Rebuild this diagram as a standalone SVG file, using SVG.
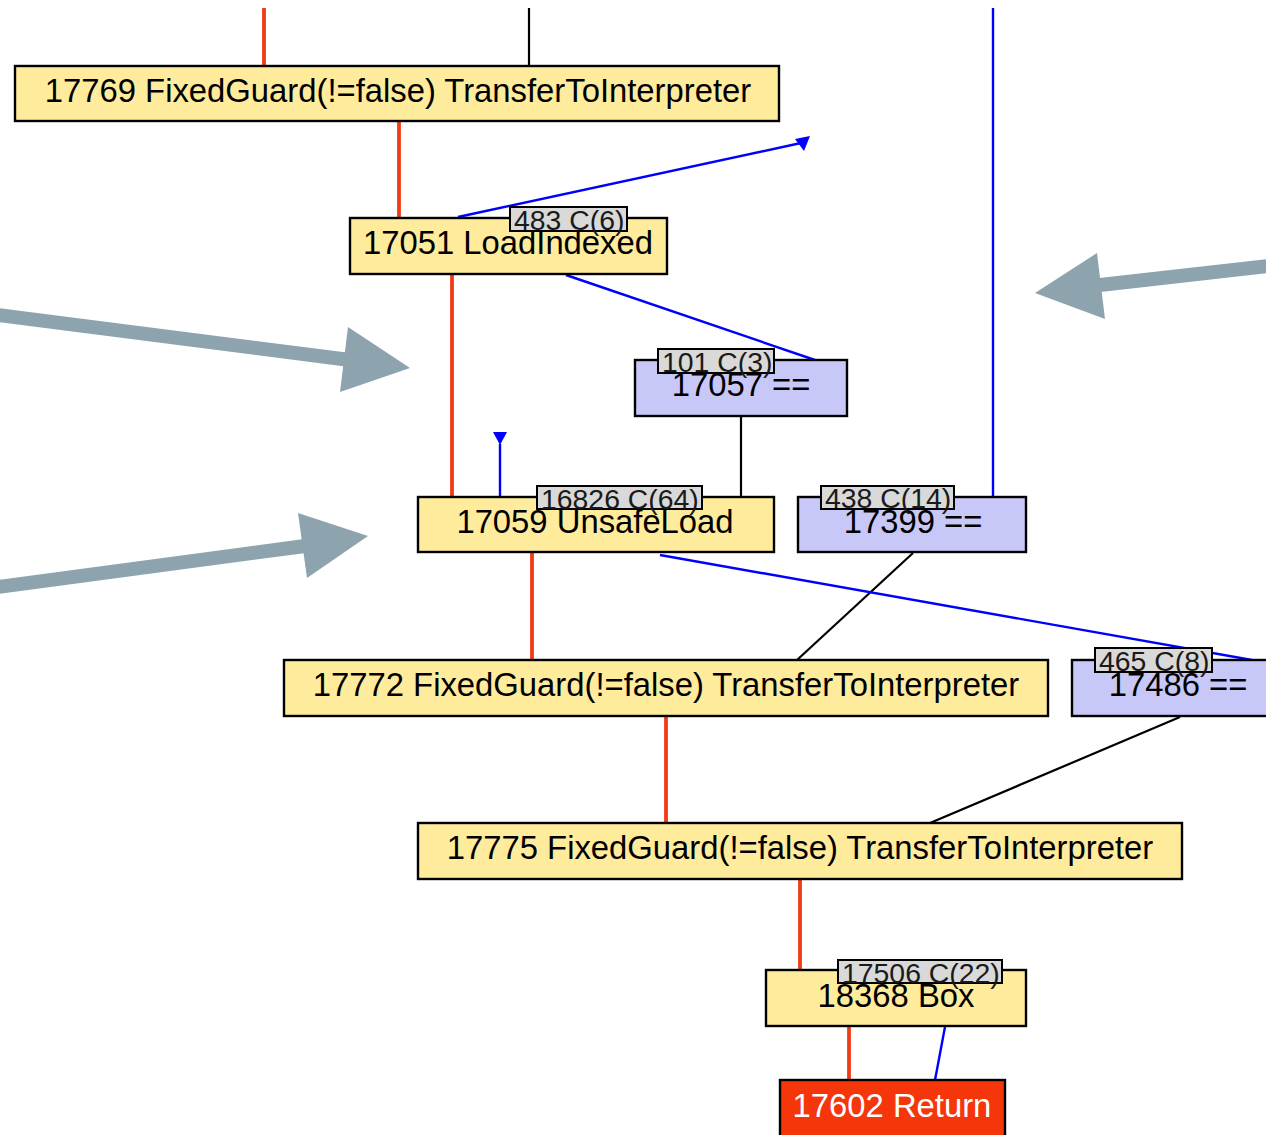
<svg xmlns="http://www.w3.org/2000/svg" width="1266" height="1135" viewBox="0 0 1266 1135">
  <style>
    text { font-family: "Liberation Sans", Arial, Helvetica, sans-serif; }
    .node rect.body { stroke: #000; stroke-width: 2.4; }
    .fixed { fill: #feeb9c; }
    .cmp { fill: #c8c8f8; }
    .ret { fill: #f5360a; }
    .name { font-size: 32.8px; fill: #000; text-anchor: middle; }
    .name.light { fill: #fff; }
    .tag rect { fill: #d9d9d9; stroke: #000; stroke-width: 2; }
    .tag text { font-size: 28.4px; fill: #1a1a1a; }
    .ctrl { stroke: #f03c16; stroke-width: 3.8; fill: none; }
    .data { stroke: #000; stroke-width: 2.2; fill: none; }
    .flow { stroke: #0000ff; stroke-width: 2.4; fill: none; }
    .head { fill: #0000ff; }
    .pointer { fill: #8da4af; }
    .pointer-shaft { stroke: #8da4af; stroke-width: 14; fill: none; }
  </style>

  <!-- connectors -->
  <g id="edges">
    <!-- control flow (red) -->
    <line class="ctrl" x1="264" y1="8" x2="264" y2="66"/>
    <line class="ctrl" x1="399" y1="122" x2="399" y2="218"/>
    <line class="ctrl" x1="452" y1="275" x2="452" y2="497"/>
    <line class="ctrl" x1="532" y1="553" x2="532" y2="660"/>
    <line class="ctrl" x1="666" y1="717" x2="666" y2="823"/>
    <line class="ctrl" x1="800" y1="880" x2="800" y2="970"/>
    <line class="ctrl" x1="849" y1="1027" x2="849" y2="1080"/>

    <!-- inputs (black) -->
    <line class="data" x1="529" y1="8" x2="529" y2="66"/>
    <line class="data" x1="741" y1="417" x2="741" y2="497"/>
    <line class="data" x1="913" y1="553" x2="797" y2="660"/>
    <line class="data" x1="1180" y1="717" x2="930" y2="823"/>

    <!-- values (blue) -->
    <line class="flow" x1="993" y1="8" x2="993" y2="497"/>
    <line class="flow" x1="458" y1="217" x2="801" y2="143"/>
    <polygon class="head" points="795,139 810,136 804,151"/>
    <line class="flow" x1="566" y1="275" x2="815" y2="360"/>
    <line class="flow" x1="500" y1="497" x2="500" y2="444"/>
    <polygon class="head" points="493,432 507,432 500,445"/>
    <line class="flow" x1="660" y1="555" x2="1252" y2="660"/>
    <line class="flow" x1="945" y1="1027" x2="935" y2="1080"/>
  </g>

  <!-- nodes -->
  <g id="n17769" class="node">
    <rect class="body fixed" x="15" y="66" width="764" height="55"/>
    <text class="name" x="398" y="102">17769 FixedGuard(!=false) TransferToInterpreter</text>
  </g>

  <g id="n17051" class="node">
    <rect class="body fixed" x="350" y="218" width="317" height="56"/>
    <text class="name" x="508" y="254">17051 LoadIndexed</text>
    <g class="tag">
      <rect x="510" y="207" width="117" height="24"/>
      <text x="514" y="230">483 C(6)</text>
    </g>
  </g>

  <g id="n17057" class="node">
    <rect class="body cmp" x="635" y="360" width="212" height="56"/>
    <text class="name" x="741" y="396">17057 ==</text>
    <g class="tag">
      <rect x="658" y="349" width="116" height="24"/>
      <text x="662" y="372">101 C(3)</text>
    </g>
  </g>

  <g id="n17059" class="node">
    <rect class="body fixed" x="418" y="497" width="356" height="55"/>
    <text class="name" x="595" y="533">17059 UnsafeLoad</text>
    <g class="tag">
      <rect x="537" y="486" width="165" height="23"/>
      <text x="541" y="509">16826 C(64)</text>
    </g>
  </g>

  <g id="n17399" class="node">
    <rect class="body cmp" x="798" y="497" width="228" height="55"/>
    <text class="name" x="913" y="533">17399 ==</text>
    <g class="tag">
      <rect x="821" y="486" width="133" height="23"/>
      <text x="825" y="508">438 C(14)</text>
    </g>
  </g>

  <g id="n17772" class="node">
    <rect class="body fixed" x="284" y="660" width="764" height="56"/>
    <text class="name" x="666" y="696">17772 FixedGuard(!=false) TransferToInterpreter</text>
  </g>

  <g id="n17486" class="node">
    <rect class="body cmp" x="1072" y="660" width="212" height="56"/>
    <text class="name" x="1178" y="696">17486 ==</text>
    <g class="tag">
      <rect x="1095" y="648" width="117" height="24"/>
      <text x="1099" y="671">465 C(8)</text>
    </g>
  </g>

  <g id="n17775" class="node">
    <rect class="body fixed" x="418" y="823" width="764" height="56"/>
    <text class="name" x="800" y="859">17775 FixedGuard(!=false) TransferToInterpreter</text>
  </g>

  <g id="n18368" class="node">
    <rect class="body fixed" x="766" y="970" width="260" height="56"/>
    <text class="name" x="896" y="1007">18368 Box</text>
    <g class="tag">
      <rect x="838" y="960" width="164" height="23"/>
      <text x="842" y="983">17506 C(22)</text>
    </g>
  </g>

  <g id="n17602" class="node">
    <rect class="body ret" x="780" y="1080" width="225" height="62"/>
    <text class="name light" x="892" y="1117">17602 Return</text>
  </g>

  <!-- pointer arrows -->
  <g id="pointers">
    <line class="pointer-shaft" x1="-2" y1="315" x2="350" y2="360"/>
    <polygon class="pointer" points="410,368 348,327 340,392"/>
    <line class="pointer-shaft" x1="-2" y1="587" x2="305" y2="546"/>
    <polygon class="pointer" points="368,536 298,513 307,578"/>
    <line class="pointer-shaft" x1="1268" y1="266" x2="1100" y2="285"/>
    <polygon class="pointer" points="1035,293 1097,253 1105,319"/>
  </g>
</svg>
